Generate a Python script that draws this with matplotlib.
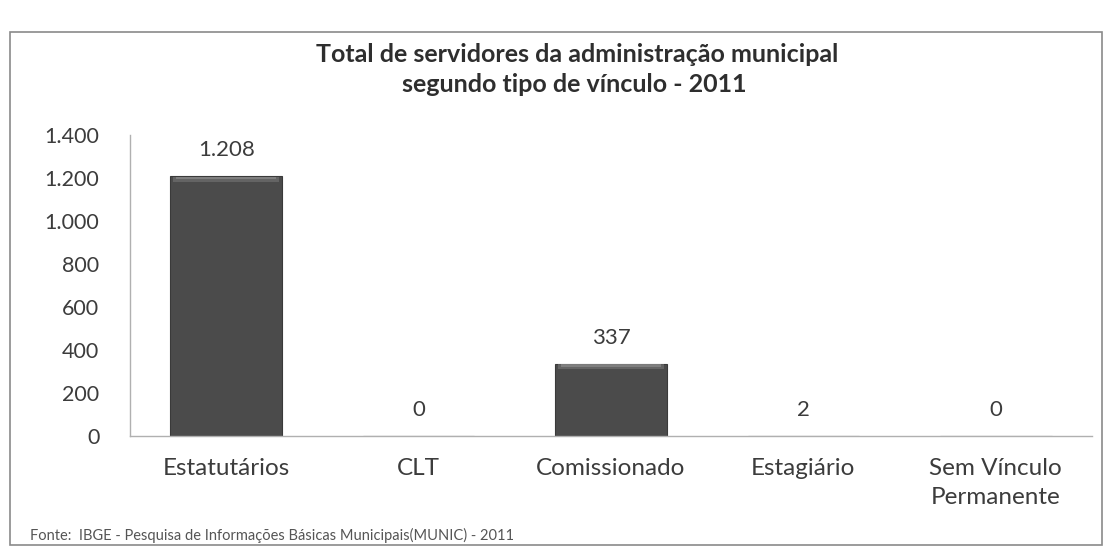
import matplotlib
matplotlib.use("Agg")
import matplotlib.pyplot as plt
from matplotlib.patches import Rectangle
from matplotlib.ticker import FuncFormatter

categories = ["Estatutários", "CLT", "Comissionado", "Estagiário", "Sem Vínculo\nPermanente"]
values = [1208, 0, 337, 2, 0]
yticks = [0, 200, 400, 600, 800, 1000, 1200, 1400]
title = "Total de servidores da administração municipal\nsegundo tipo de vínculo - 2011"
source = "Fonte:  IBGE - Pesquisa de Informações Básicas Municipais(MUNIC) - 2011"

plt.rcParams['font.family'] = ['Lato', 'DejaVu Sans']
txt = "#3c3c3c"

def br(v):
    return f"{int(v):,}".replace(",", ".")

fig = plt.figure(figsize=(11.08, 5.54), dpi=100)
fig.patch.set_facecolor("white")
fig.patches.append(Rectangle((10/1108, 1-545/554), (1102-10)/1108, (545-32)/554,
                             transform=fig.transFigure, fill=False,
                             edgecolor="#8a8a8a", linewidth=1.2))

ax = fig.add_axes([130/1108, 1-436/554, 962/1108, 301/554])
x = list(range(len(categories)))
bars = ax.bar(x, values, width=0.58, color="#4b4b4b", edgecolor="#3a3a3a", linewidth=0.8)
# light bevel on top of each bar
for b in bars:
    if b.get_height() > 0:
        cx = b.get_x() + b.get_width() / 2
        ax.bar(cx, 22, bottom=b.get_height() - 26, width=b.get_width() * 0.95,
               color="#7a7a7a", alpha=0.55, linewidth=0)
        ax.bar(cx, 10, bottom=b.get_height() - 14, width=b.get_width() * 0.9,
               color="#9a9a9a", alpha=0.5, linewidth=0)
for xi, v in zip(x, values):
    ax.text(xi, v + 120, br(v), ha="center", va="center", fontsize=16, color=txt)

ax.set_xlim(-0.5, len(categories) - 0.5)
ax.set_ylim(0, 1400)
ax.set_yticks(yticks)
ax.yaxis.set_major_formatter(FuncFormatter(lambda v, p: br(v)))
ax.set_xticks(x)
ax.set_xticklabels(categories, fontsize=17.5, color=txt, linespacing=1.5, va="top")
ax.tick_params(axis="y", labelsize=15.5, labelcolor=txt, length=0, pad=22)
ax.tick_params(axis="x", length=0, pad=15.5)
for s in ["top", "right"]:
    ax.spines[s].set_visible(False)
for s in ["left", "bottom"]:
    ax.spines[s].set_color("#b0b0b0")
    ax.spines[s].set_linewidth(1.0)

fig.text(577/1108, 1-54/554, title.split("\n")[0], ha="center", va="center", fontsize=18,
         fontweight="bold", color="#2e2e2e")
fig.text(574/1108, 1-85/554, title.split("\n")[1], ha="center", va="center", fontsize=18,
         fontweight="bold", color="#2e2e2e")
fig.text(30/1108, 1-535/554, source, ha="left", va="center", fontsize=10.5, color="#555555")

fig.savefig("out.png", dpi=100, facecolor="white")
